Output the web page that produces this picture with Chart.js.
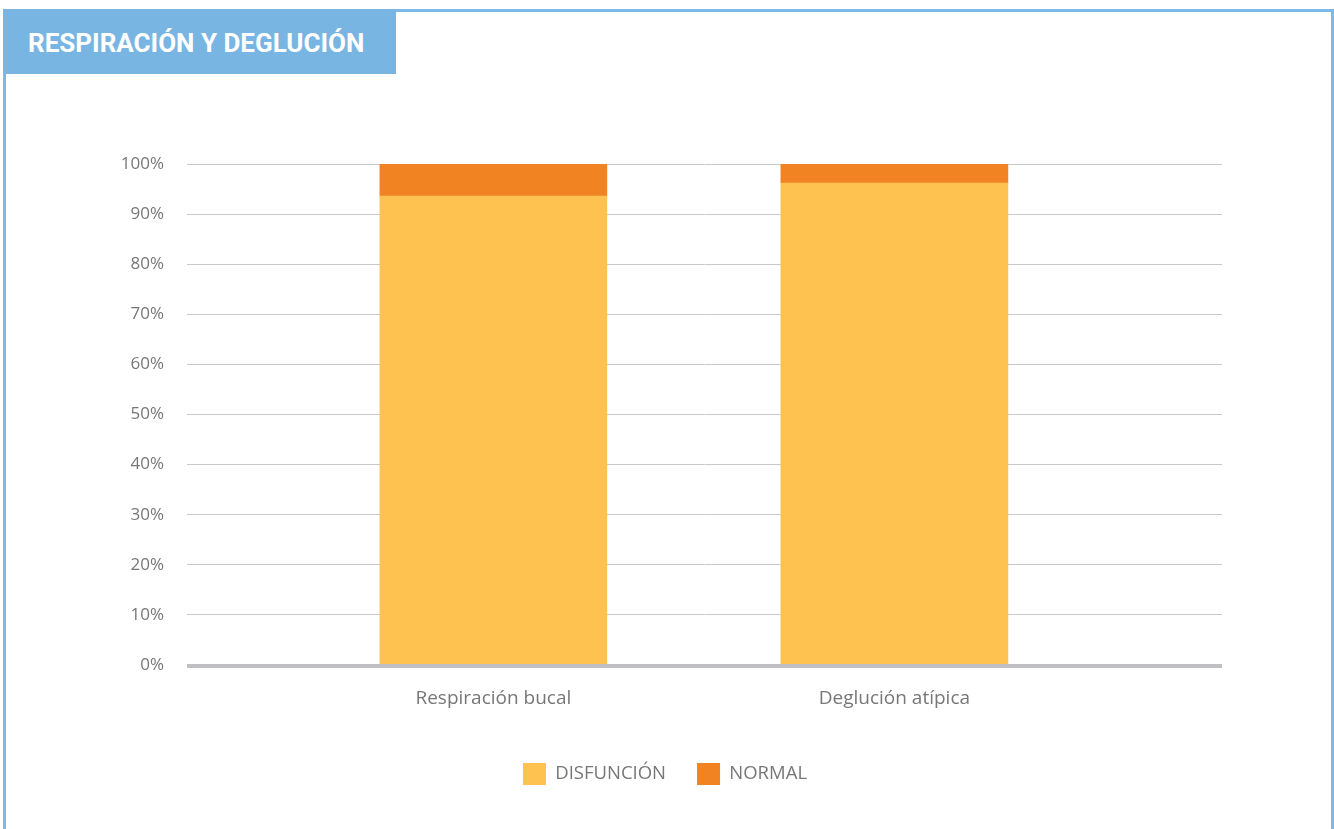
<!DOCTYPE html>
<html>
<head>
<meta charset="utf-8">
<script src="https://cdn.jsdelivr.net/npm/chart.js@4"></script>
<style>
  html, body { margin: 0; padding: 0; background: #fff; }
  body { width: 1334px; height: 829px; position: relative; overflow: hidden; }
  #grafico { position: absolute; left: 0; top: 0; }
  .marco {
    position: absolute; left: 3px; top: 9px; width: 1325px; height: 840px;
    border: 3px solid #7db9e6; border-bottom: none; pointer-events: none;
  }
  .cabecera {
    position: absolute; left: 3px; top: 9px; width: 393px; height: 65px;
    background: #79b5e3; color: #fff;
    font: 700 26px "Roboto", sans-serif; letter-spacing: 0;
    line-height: 68px; padding-left: 25px; box-sizing: border-box;
  }
</style>
</head>
<body>
<canvas id="grafico" width="1334" height="829"></canvas>
<div class="marco"></div>
<div class="cabecera">RESPIRACIÓN Y DEGLUCIÓN</div>
<script>
    var amarillo = '#fec250',
        naranja  = '#f28322',
        gris     = '#777777';

    // ------------------------------------------------------- //
    // Datos
    // ------------------------------------------------------ //
    var categorias = ['Respiración bucal', 'Deglución atípica'];
    var disfuncion = [93.6, 96.2];
    var normal     = [6.4, 3.8];
    var ticksY     = [0, 10, 20, 30, 40, 50, 60, 70, 80, 90, 100];

    function puntos(valores) {
        return valores.map(function (v, i) { return { x: i + 1, y: v }; });
    }

    // ------------------------------------------------------- //
    // Barras apiladas
    // ------------------------------------------------------ //
    var ctx = document.getElementById('grafico').getContext('2d');
    var grafico = new Chart(ctx, {
        type: 'bar',
        data: {
            datasets: [
                {
                    label: 'DISFUNCIÓN',
                    data: puntos(disfuncion),
                    backgroundColor: amarillo,
                    barThickness: 227
                },
                {
                    label: 'NORMAL',
                    data: puntos(normal),
                    backgroundColor: naranja,
                    barThickness: 227
                }
            ]
        },
        options: {
            responsive: false,
            animation: false,
            layout: {
                padding: { left: 108, right: 112, top: 164, bottom: 34 }
            },
            plugins: {
                tooltip: { enabled: false },
                legend: {
                    position: 'bottom',
                    labels: {
                        boxWidth: 23,
                        boxHeight: 22,
                        padding: 31,
                        color: gris,
                        font: { family: 'Open Sans', size: 18.5 }
                    }
                }
            },
            scales: {
                x: {
                    type: 'linear',
                    stacked: true,
                    offset: false,
                    bounds: 'data',
                    min: 0.236,
                    max: 2.817,
                    grid: { display: false, drawTicks: false, offset: false },
                    border: { display: false },
                    afterBuildTicks: function (s) {
                        s.ticks = categorias.map(function (c, i) { return { value: i + 1 }; });
                    },
                    afterFit: function (s) { s.height = 67; },
                    ticks: {
                        padding: 22,
                        color: gris,
                        font: { family: 'Open Sans', size: 19 },
                        callback: function (v) { return categorias[v - 1]; }
                    }
                },
                y: {
                    stacked: true,
                    min: 0,
                    max: 100,
                    afterBuildTicks: function (s) {
                        s.ticks = ticksY.map(function (v) { return { value: v }; });
                    },
                    afterFit: function (s) { s.width = 79; },
                    grid: {
                        color: function (c) { return c.tick.value === 0 ? 'rgba(0,0,0,0)' : '#c9c9c9'; },
                        lineWidth: 1,
                        drawTicks: false
                    },
                    border: { display: false },
                    ticks: {
                        padding: 23,
                        color: gris,
                        font: { family: 'Open Sans', size: 17 },
                        callback: function (v) { return v + '%'; }
                    }
                }
            }
        },
        plugins: [{
            // línea base gruesa del eje de categorías
            id: 'lineaBase',
            afterDatasetsDraw: function (chart) {
                var a = chart.chartArea, y = chart.scales.y.getPixelForValue(0);
                var c = chart.ctx;
                c.save();
                c.strokeStyle = '#bfbfc4';
                c.lineWidth = 4;
                c.beginPath();
                c.moveTo(a.left, y + 1);
                c.lineTo(a.right, y + 1);
                c.stroke();
                c.restore();
            }
        }]
    });
</script>
</body>
</html>
